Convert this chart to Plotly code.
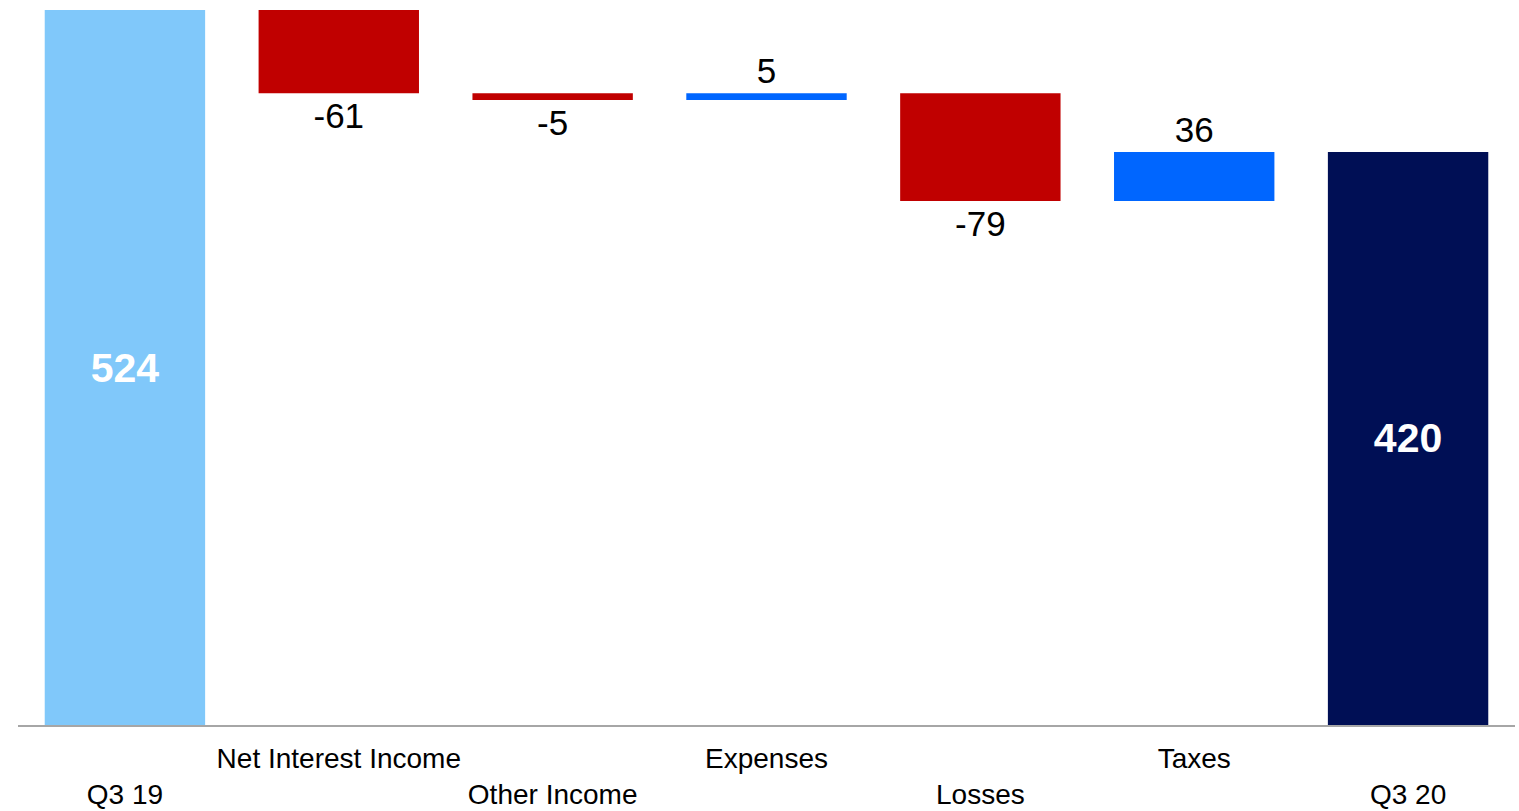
import plotly.graph_objects as go

categories = ["Q3 19", "Net Interest Income", "Other Income", "Expenses", "Losses", "Taxes", "Q3 20"]
tick_labels = ["<br>Q3 19", "Net Interest Income", "<br>Other Income", "Expenses",
               "<br>Losses", "Taxes", "<br>Q3 20"]
start_total = 524
deltas = [-61, -5, 5, -79, 36]
end_total = 420

total_colors = ["#80C8FA", "#000F55"]
neg_color = "#C00000"
pos_color = "#0066FF"

# bases for the change bars, computed from the data
bases = []
running = start_total
for d in deltas:
    bases.append(running)
    running += d

FONT = "Liberation Sans, Arial, sans-serif"

fig = go.Figure()

fig.add_trace(go.Bar(
    x=[categories[0], categories[-1]],
    y=[start_total, end_total],
    width=0.75,
    marker=dict(color=total_colors, line=dict(width=0)),
    text=[f"<b>{v}</b>" for v in [start_total, end_total]],
    textposition="inside",
    insidetextanchor="middle",
    textfont=dict(family=FONT, size=41, color="white"),
    textangle=0,
    hoverinfo="skip",
    showlegend=False,
))

fig.add_trace(go.Bar(
    x=categories[1:-1],
    y=deltas,
    base=bases,
    width=0.75,
    marker=dict(color=[pos_color if d > 0 else neg_color for d in deltas], line=dict(width=0)),
    text=[str(d) for d in deltas],
    textposition="outside",
    textfont=dict(family=FONT, size=35, color="black"),
    textangle=0,
    cliponaxis=False,
    hoverinfo="skip",
    showlegend=False,
))

fig.update_layout(
    width=1519, height=811,
    margin=dict(l=18, r=4, t=10, b=86),
    paper_bgcolor="white",
    plot_bgcolor="white",
    barmode="overlay",
    uniformtext=dict(mode=False),
    xaxis=dict(
        categoryorder="array", categoryarray=categories,
        tickmode="array", tickvals=categories, ticktext=tick_labels,
        range=[-0.5, 6.5],
        showline=True, linecolor="#A6A6A6", linewidth=2,
        showgrid=False, ticks="", zeroline=False,
        tickfont=dict(family=FONT, size=28, color="black"),
        ticklabelstandoff=7,
        automargin=False,
    ),
    yaxis=dict(
        range=[0, 524], visible=False, showgrid=False, zeroline=False,
        automargin=False,
    ),
)

fig.write_html("out.html")
